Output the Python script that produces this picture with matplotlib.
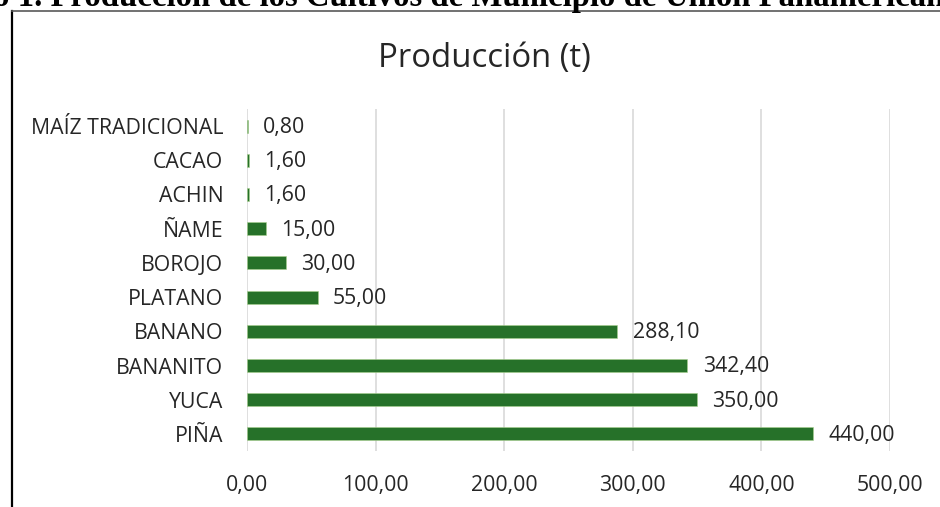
import matplotlib
matplotlib.use("Agg")
import matplotlib.pyplot as plt
from matplotlib.lines import Line2D

categories = ["PIÑA", "YUCA", "BANANITO", "BANANO", "PLATANO", "BOROJO",
              "ÑAME", "ACHIN", "CACAO", "MAÍZ TRADICIONAL"]
values = [440.00, 350.00, 342.40, 288.10, 55.00, 30.00, 15.00, 1.60, 1.60, 0.80]
xticks = [0, 100, 200, 300, 400, 500]
title = "Producción (t)"
caption = "Gráfico 1. Producción de los Cultivos de Municipio de Unión Panamericana"

def fmt(v):
    return f"{v:,.2f}".replace(",", "X").replace(".", ",").replace("X", ".")

plt.rcParams['font.family'] = ['Open Sans', 'DejaVu Sans']
W, H = 940, 507
fig = plt.figure(figsize=(W/100, H/100), dpi=100)

# frame of the embedded chart
fig.add_artist(Line2D([12/W, 12/W], [0, 1 - 11/H], transform=fig.transFigure,
                      color="black", lw=1.6))
fig.add_artist(Line2D([12/W, 1], [1 - 11/H, 1 - 11/H], transform=fig.transFigure,
                      color="#595959", lw=1.2))

# cropped document caption (partly outside the page, as in the reference)
fig.text(431/W, 1 - 6/H, caption, ha="center", va="baseline",
         family="Liberation Serif", fontweight="bold", fontsize=23.6, color="black")

ax = fig.add_axes([247/W, 1 - 451/H, (890 - 247)/W, (451 - 109)/H])
y = range(len(categories))
ax.barh(y, values, height=0.38, color="#267129", edgecolor="#a9d18e", linewidth=0.4, zorder=3)
ax.set_ylim(-0.5, len(categories) - 0.5)
ax.set_xlim(0, 500)
ax.set_xticks(xticks)
ax.set_xticklabels([fmt(v) for v in xticks], fontsize=15.3, color="#262626")
ax.set_yticks(list(y))
ax.set_yticklabels(categories, fontsize=15.3, color="#262626")
ax.tick_params(axis="both", length=0)
ax.tick_params(axis="x", pad=17)
ax.tick_params(axis="y", pad=17)
ax.grid(axis="x", color="#d9d9d9", lw=1.2, zorder=0)
for s in ax.spines.values():
    s.set_visible(False)
for yi, v in zip(y, values):
    ax.annotate(fmt(v), (v, yi), xytext=(11, -1), textcoords="offset points",
                ha="left", va="center", fontsize=15.3, color="#262626")

fig.text(484/W, 1 - 67/H, title, ha="center", va="baseline", fontsize=23.7, color="#262626")

fig.savefig("out.png", dpi=100)
